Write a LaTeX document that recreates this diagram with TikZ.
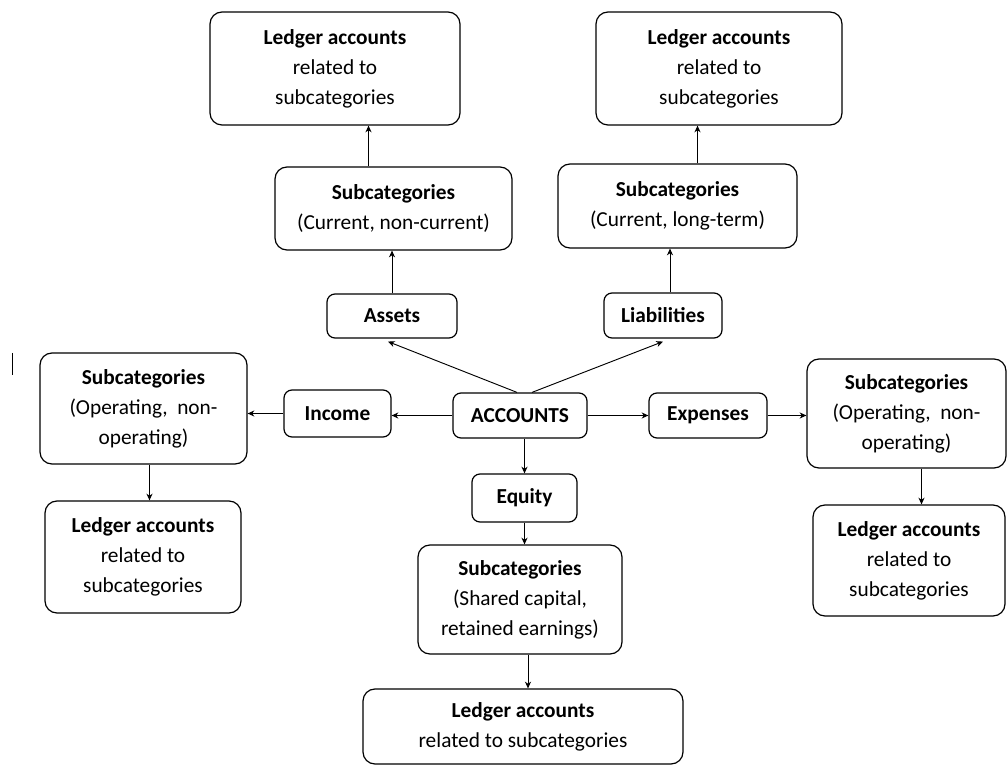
\documentclass[tikz,border=0pt]{standalone}
\usepackage{fontspec}
\setmainfont{Carlito}
\usetikzlibrary{calc,arrows.meta}

\begin{document}
\begin{tikzpicture}[x=0.75pt,y=-0.75pt,font=\fontsize{16}{22.5}\selectfont,
			>={Stealth[length=5pt,width=4.5pt,inset=1.5pt]},
			box/.style 2 args={draw,line width=0.9pt,rounded corners=9pt,align=center,inner sep=0pt,
				minimum width=#1*0.75pt,minimum height=#2*0.75pt},
			tag/.style 2 args={box={#1}{#2},rounded corners=6pt,font=\fontsize{16}{22.5}\selectfont\bfseries}]
			\useasboundingbox (0,0) rectangle (1007,766);
			\node[box={250}{113}] (ledA) at (335,68.5) {\textbf{Ledger accounts}\\related to\\subcategories};
			\node[box={246}{113}] (ledL) at (719,68.5) {\textbf{Ledger accounts}\\related to\\subcategories};
			\node[box={237}{83}] (subA) at (393.5,208.5) {\textbf{Subcategories}\\(Current, non-current)};
			\node[box={239}{84}] (subL) at (677.5,206) {\textbf{Subcategories}\\(Current, long-term)};
			\node[tag={130}{44}] (assets) at (392,316) {Assets};
			\node[tag={118}{45}] (liab) at (663,315.5) {Liabilities};
			\node[tag={134}{45}] (acc) at (520,415.5) {ACCOUNTS};
			\node[tag={107}{47}] (income) at (337.5,413.5) {Income};
			\node[tag={118}{45}] (exp) at (708,415.5) {Expenses};
			\node[tag={105}{48}] (equity) at (524.5,498) {Equity};
			\node[box={207}{111}] (subI) at (143.5,408.5) {\textbf{Subcategories}\\(Operating,~ non-\\operating)};
			\node[box={196}{112}] (ledI) at (143,557) {\textbf{Ledger accounts}\\related to\\subcategories};
			\node[box={199}{109}] (subX) at (906.5,413.5) {\textbf{Subcategories}\\(Operating,~ non-\\operating)};
			\node[box={192}{111}] (ledX) at (909,560.5) {\textbf{Ledger accounts}\\related to\\subcategories};
			\node[box={204}{109}] (subE) at (520,599.5) {\textbf{Subcategories}\\(Shared capital,\\retained earnings)};
			\node[box={320}{75}] (ledE) at (523,726.5) {\textbf{Ledger accounts}\\related to subcategories};
			\draw[line width=0.6pt] (12,353) -- (12,375);
			\path[->,line width=0.7pt]
			($(acc.north)+(-3,0)$) edge ($(assets.south)+(-4,3)$)
			($(acc.north)+(12,0)$) edge ($(liab.south)+(0,3)$)
			(acc.west) edge (acc.west -| income.east)
			(acc.east) edge (exp.west)
			(income.west) edge (income.west -| subI.east)
			(exp.east) edge (exp.east -| subX.west)
			(equity.north |- acc.south) edge (equity.north)
			(equity.south) edge (equity.south |- subE.north)
			($(subE.south)+(8,0)$) edge ($(ledE.north)+(5,0)$)
			(assets.north) edge (assets.north |- subA.south)
			($(liab.north)+(7,0)$) edge ($(liab.north |- subL.south)+(7,0)$)
			($(subA.north)+(-25,0)$) edge ($(subA.north |- ledA.south)+(-25,0)$)
			($(subL.north)+(20,0)$) edge ($(subL.north |- ledL.south)+(20,0)$)
			($(subI.south)+(6,0)$) edge ($(subI.south |- ledI.north)+(6,0)$)
			($(subX.south)+(15,0)$) edge ($(subX.south |- ledX.north)+(15,0)$);
		\end{tikzpicture}
\end{document}
